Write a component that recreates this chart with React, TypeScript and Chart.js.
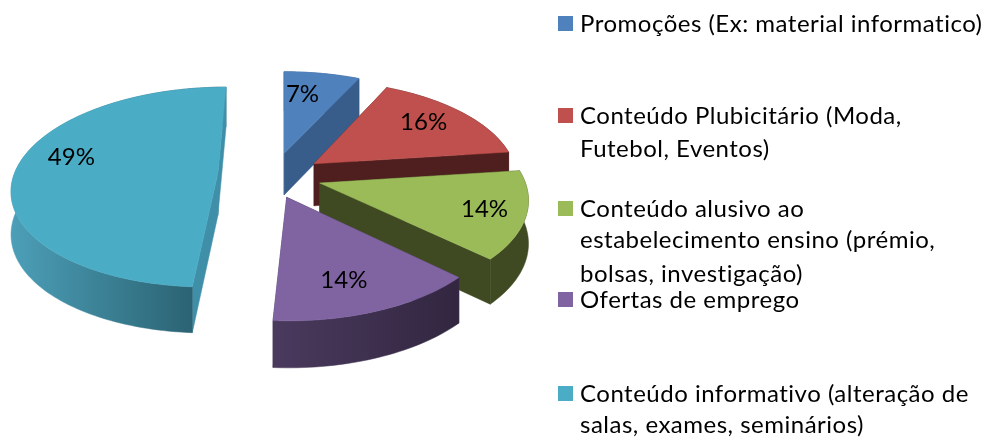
import { useEffect, useRef } from "react";
import { Chart, registerables } from "chart.js";

Chart.register(...registerables);

const categories = [
  "Promoções (Ex: material informatico)",
  "Conteúdo Plubicitário (Moda, Futebol, Eventos)",
  "Conteúdo alusivo ao estabelecimento ensino (prémio, bolsas, investigação)",
  "Ofertas de emprego",
  "Conteúdo informativo (alteração de salas, exames, seminários)",
];
const legendLines = [
  ["Promoções (Ex: material informatico)"],
  ["Conteúdo Plubicitário (Moda,", "Futebol, Eventos)"],
  ["Conteúdo alusivo ao", "estabelecimento ensino (prémio,", "bolsas, investigação)"],
  ["Ofertas de emprego"],
  ["Conteúdo informativo (alteração de", "salas, exames, seminários)"],
];
const values = [7, 16, 14, 14, 49];
const explode = [42, 42, 48, 52, 55];
const topColors = ["#4F81BD", "#C0504D", "#9BBB59", "#8064A2", "#4BACC6"];
const sideFrom = ["#385D8A", "#4E1F1E", "#3F4A22", "#4A3A5E", "#4C9FB8"];
const sideTo = ["#385D8A", "#4E1F1E", "#3F4A22", "#322640", "#2B6373"];
const cutColors = ["#385D8A", "#4E1F1E", "#3F4A22", "#4A3A5E", "#3F8FA8"];

const PAINT_ORDER = [0, 1, 4, 2, 3];
const TILT = 0.474;
const PERSP = 0.0007;
const VANISH_DX = 9;
const CAMERA_DY = 25;
const DEPTH = 42;
const LABEL_R = 0.72;
const SLICE_NUDGE = [[1, 0], [6, 3], [-1, 3], [-7, 0], [0, 1]];
const LABEL_NUDGE = [[-9, 0], [7, -1], [17, 6], [-13, 5], [-1, -12]];
const LEGEND_X = 580;
const SWATCH_X = 558;
const SWATCH = 15;
const LEGEND_BASE = [[32], [124, 157], [217, 248, 282], [308], [402, 433]];
const LEGEND_FONT = "24px Lato, 'Noto Sans', sans-serif";
const LEGEND_SPACING = "0.5px";

type Pt = { x: number; y: number; s: number };

function projector(cx: number, cy: number) {
  const f = (Y: number) => (TILT * Y) / (1 - PERSP * Y);
  return (X: number, Y: number): Pt => {
    const s = 1 / (1 - PERSP * (Y + CAMERA_DY));
    return {
      x: cx + VANISH_DX + (X - VANISH_DX) * s,
      y: cy - f(CAMERA_DY) + f(Y + CAMERA_DY),
      s,
    };
  };
}

const drop = (p: Pt) => ({ x: p.x, y: p.y + DEPTH * (0.5 + 0.5 * p.s), s: p.s });

function poly(ctx: CanvasRenderingContext2D, pts: { x: number; y: number }[], fill: string | CanvasGradient) {
  ctx.beginPath();
  pts.forEach((p, i) => (i ? ctx.lineTo(p.x, p.y) : ctx.moveTo(p.x, p.y)));
  ctx.closePath();
  ctx.fillStyle = fill;
  ctx.fill();
  ctx.strokeStyle = fill;
  ctx.lineWidth = 0.5;
  ctx.stroke();
}

const pie3d = {
  id: "pie3d",
  beforeDatasetDraw(chart: any) {
    const ctx: CanvasRenderingContext2D = chart.ctx;
    const arcs = chart.getDatasetMeta(0).data;
    for (const i of PAINT_ORDER) {
      const arc = arcs[i];
      const R = arc.outerRadius;
      const e = arc.options.offset;
      const a0 = arc.startAngle;
      const a1 = arc.endAngle;
      const mid = (a0 + a1) / 2;
      const ax = Math.cos(mid) * e;
      const ay = Math.sin(mid) * e;
      const P0 = projector(arc.x, arc.y);
      const P = (X: number, Y: number): Pt => {
        const p = P0(X, Y);
        return { x: p.x + SLICE_NUDGE[i][0], y: p.y + SLICE_NUDGE[i][1], s: p.s };
      };
      const apex = P(ax, ay);
      const rim: Pt[] = [];
      const n = Math.max(8, Math.ceil((a1 - a0) * 40));
      for (let k = 0; k <= n; k++) {
        const a = a0 + ((a1 - a0) * k) / n;
        rim.push(P(ax + Math.cos(a) * R, ay + Math.sin(a) * R));
      }
      const low = rim.map(drop);
      const apexLow = drop(apex);
      const front = rim.filter((p) => p.y >= apex.y);
      const gxs = (front.length ? front : rim).map((p) => p.x);
      const grad = ctx.createLinearGradient(Math.min(...gxs), 0, Math.max(...gxs), 0);
      grad.addColorStop(0, sideFrom[i]);
      grad.addColorStop(1, sideTo[i]);
      poly(ctx, [apex, rim[0], low[0], apexLow], cutColors[i]);
      poly(ctx, [...rim, ...[...low].reverse()], grad);
      poly(ctx, [apex, rim[n], low[n], apexLow], cutColors[i]);
      poly(ctx, [apex, ...rim], topColors[i]);
    }
    ctx.fillStyle = "#000";
    ctx.font = "24px Lato, 'Noto Sans', sans-serif";
    ctx.textAlign = "center";
    ctx.textBaseline = "middle";
    arcs.forEach((arc: any, i: number) => {
      const mid = (arc.startAngle + arc.endAngle) / 2;
      const P = projector(arc.x, arc.y);
      const r = arc.options.offset + arc.outerRadius * LABEL_R;
      const p = P(Math.cos(mid) * r, Math.sin(mid) * r);
      ctx.fillText(`${values[i]}%`, p.x + LABEL_NUDGE[i][0], p.y + LABEL_NUDGE[i][1]);
    });
    return false;
  },
  afterDraw(chart: any) {
    const ctx: CanvasRenderingContext2D = chart.ctx;
    ctx.save();
    ctx.font = LEGEND_FONT;
    (ctx as any).letterSpacing = LEGEND_SPACING;
    ctx.textAlign = "left";
    ctx.textBaseline = "alphabetic";
    legendLines.forEach((lines, i) => {
      ctx.fillStyle = topColors[i];
      ctx.fillRect(SWATCH_X, LEGEND_BASE[i][0] - 16, SWATCH, SWATCH);
      ctx.fillStyle = "#000";
      lines.forEach((line, j) => ctx.fillText(line, LEGEND_X, LEGEND_BASE[i][j]));
    });
    ctx.restore();
  },
};

export default function App() {
  const ref = useRef<HTMLCanvasElement>(null);
  useEffect(() => {
    const chart = new Chart(ref.current!, {
      type: "pie",
      data: {
        labels: categories,
        datasets: [{ data: values, backgroundColor: topColors, offset: explode, borderWidth: 0 }],
      },
      options: {
        animation: false,
        responsive: false,
        radius: 200,
        layout: { padding: { right: 438, bottom: 91.6 } },
        plugins: { legend: { display: false }, tooltip: { enabled: false } },
      } as any,
      plugins: [pie3d],
    });
    return () => chart.destroy();
  }, []);
  return (
    <canvas
      ref={ref}
      width={986}
      height={437}
      style={{ position: "fixed", left: 0, top: 0, width: 986, height: 437, background: "#fff" }}
    />
  );
}
